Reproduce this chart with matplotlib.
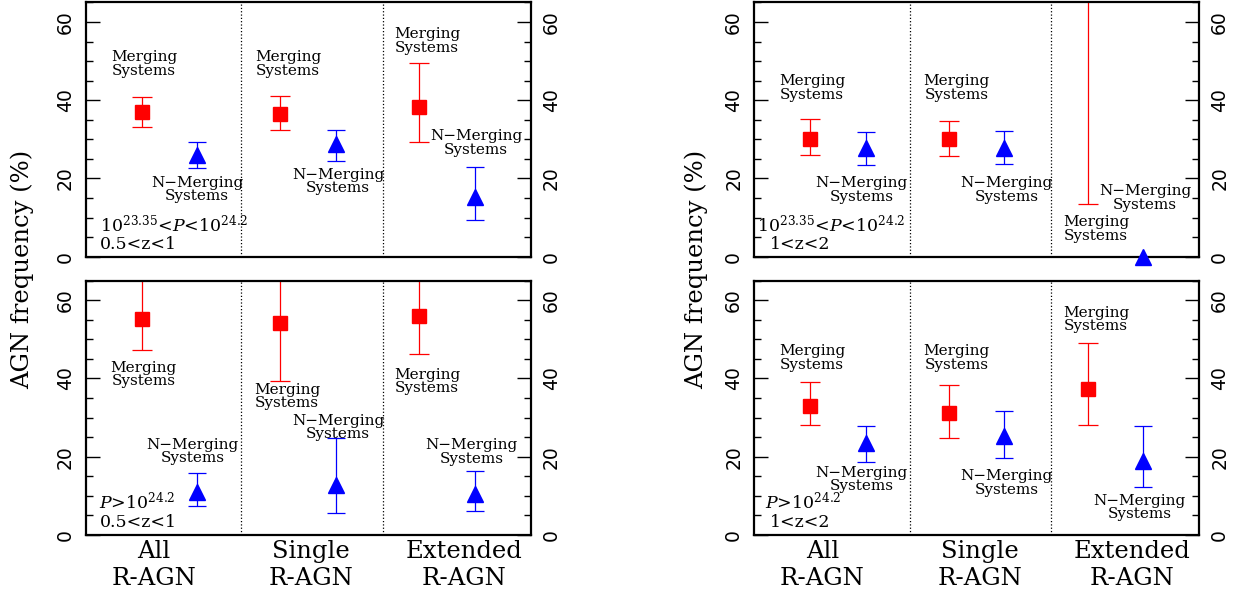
import numpy as np
import matplotlib
matplotlib.use('Agg')
import matplotlib.pyplot as plt
from matplotlib.ticker import MultipleLocator

plt.rcParams['font.family'] = 'DejaVu Serif'
plt.rcParams['mathtext.fontset'] = 'dejavuserif'

# categories (x axis)
categories = ['All\nR-AGN', 'Single\nR-AGN', 'Extended\nR-AGN']

# AGN frequency (%); lo / hi are the ends of the error bars
# top-left: 10^23.35<P<10^24.2, 0.5<z<1
tl_merg = [36.9, 36.6, 38.2]
tl_merg_lo = [33.1, 32.4, 29.3]
tl_merg_hi = [40.9, 41.1, 49.6]
tl_nmerg = [26.0, 28.7, 15.3]
tl_nmerg_lo = [22.6, 24.5, 9.4]
tl_nmerg_hi = [29.2, 32.3, 23.0]

# bottom-left: P>10^24.2, 0.5<z<1
bl_merg = [55.1, 54.3, 56.0]
bl_merg_lo = [47.2, 39.3, 46.3]
bl_merg_hi = [68.0, 70.0, 68.0]
bl_nmerg = [11.1, 12.8, 10.5]
bl_nmerg_lo = [7.3, 5.7, 6.2]
bl_nmerg_hi = [15.8, 24.7, 16.3]

# top-right: 10^23.35<P<10^24.2, 1<z<2
tr_merg = [30.2, 30.0, 100.0]
tr_merg_lo = [26.1, 25.7, 13.4]
tr_merg_hi = [35.2, 34.8, 100.0]
tr_nmerg = [27.7, 27.7, 0.0]
tr_nmerg_lo = [23.5, 23.6, 0.0]
tr_nmerg_hi = [32.0, 32.2, 0.0]

# bottom-right: P>10^24.2, 1<z<2
br_merg = [32.9, 31.1, 37.3]
br_merg_lo = [28.0, 24.9, 28.0]
br_merg_hi = [39.0, 38.3, 49.1]
br_nmerg = [23.4, 25.2, 19.0]
br_nmerg_lo = [18.6, 19.6, 12.2]
br_nmerg_hi = [27.9, 31.7, 27.8]

# layout: x of the points, dividers, label spots
x_merg = np.array([0.375, 1.311, 2.248])
x_nmerg = x_merg + 0.376
x_div = [1.047, 2.004]
x_cat = [0.46, 1.52, 2.55]

fig = plt.figure(figsize=(12.39, 5.97), dpi=100)

def panel(rect, merg, mlo, mhi, nmerg, nlo, nhi, mlab, nlab, corner, show_x):
    ax = fig.add_axes(rect)
    ax.set_xlim(0, 3)
    ax.set_ylim(0, 65)
    merg = np.array(merg); nmerg = np.array(nmerg)
    ax.errorbar(x_merg, merg, yerr=[merg - np.array(mlo), np.array(mhi) - merg],
                fmt='s', color='red', ms=10, elinewidth=0.9, capsize=7, capthick=0.9)
    ax.errorbar(x_nmerg, nmerg, yerr=[nmerg - np.array(nlo), np.array(nhi) - nmerg],
                fmt='none', ecolor='blue', elinewidth=0.9, capsize=6.5, capthick=0.9)
    ax.plot(x_nmerg, nmerg, '^', color='blue', ms=11.5, clip_on=False, zorder=5)
    for xd in x_div:
        ax.axvline(xd, color='black', ls=':', lw=0.9)
    for (x, y) in mlab:
        ax.text(x, y, 'Merging\nSystems', ha='center', va='center', fontsize=11, linespacing=0.95)
    for (x, y) in nlab:
        ax.text(x, y, 'N\u2212Merging\nSystems', ha='center', va='center', fontsize=11, linespacing=0.95)
    for (s, x, y) in corner:
        ax.text(x, y, s, ha='left', va='center', fontsize=12.5)
    ax.xaxis.set_visible(False)
    ax.yaxis.set_major_locator(MultipleLocator(20))
    ax.yaxis.set_minor_locator(MultipleLocator(5))
    ax.tick_params(axis='y', which='both', direction='in', left=True, right=True,
                   labelleft=True, labelright=True, width=1.0)
    ax.tick_params(axis='y', which='major', length=10, pad=8, labelsize=13.5)
    ax.tick_params(axis='y', which='minor', length=5)
    for lab in ax.get_yticklabels():
        lab.set_rotation(90)
        lab.set_va('center')
        lab.set_family('DejaVu Sans')
    for sp in ax.spines.values():
        sp.set_linewidth(1.6)
    if show_x:
        for x, c in zip(x_cat, categories):
            ax.text(x, -0.018, c, transform=ax.get_xaxis_transform(), ha='center', va='top',
                    fontsize=17.5, linespacing=1.25)
    return ax

W = 0.359
H = 0.426
panel([0.0694, 0.570, W, H], tl_merg, tl_merg_lo, tl_merg_hi, tl_nmerg, tl_nmerg_lo, tl_nmerg_hi,
      [(0.391, 49.2), (1.362, 49.2), (2.30, 55.1)], [(0.75, 17.2), (1.70, 19.2), (2.63, 29.1)],
      [(r'$10^{23.35}$<$P$<$10^{24.2}$', 0.094, 7.9), ('0.5<z<1', 0.094, 3.2)], False)
panel([0.0694, 0.1039, W, H], bl_merg, bl_merg_lo, bl_merg_hi, bl_nmerg, bl_nmerg_lo, bl_nmerg_hi,
      [(0.39, 41.0), (1.355, 35.4), (2.30, 39.2)], [(0.72, 21.3), (1.70, 27.4), (2.60, 21.2)],
      [(r'$P$>$10^{24.2}$', 0.085, 8.4), ('0.5<z<1', 0.094, 3.2)], True)
panel([0.6088, 0.570, W, H], tr_merg, tr_merg_lo, tr_merg_hi, tr_nmerg, tr_nmerg_lo, tr_nmerg_hi,
      [(0.389, 43.1), (1.365, 43.1), (2.305, 7.1)], [(0.724, 17.1), (1.70, 17.1), (2.636, 15.0)],
      [(r'$10^{23.35}$<$P$<$10^{24.2}$', 0.016, 7.9), ('1<z<2', 0.106, 3.2)], False)
panel([0.6088, 0.1039, W, H], br_merg, br_merg_lo, br_merg_hi, br_nmerg, br_nmerg_lo, br_nmerg_hi,
      [(0.389, 45.2), (1.365, 45.2), (2.305, 55.1)], [(0.724, 14.2), (1.70, 13.3), (2.60, 7.0)],
      [(r'$P$>$10^{24.2}$', 0.07, 8.4), ('1<z<2', 0.106, 3.2)], True)

fig.text(0.018, 0.548, 'AGN frequency (%)', rotation=90, ha='center', va='center', fontsize=17.5)
fig.text(0.562, 0.548, 'AGN frequency (%)', rotation=90, ha='center', va='center', fontsize=17.5)

fig.savefig('out.png', dpi=100)
